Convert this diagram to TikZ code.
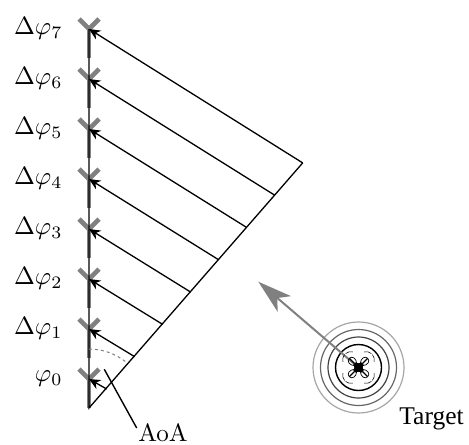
\documentclass[tikz,border=0pt]{standalone}
\usepackage{amsmath,amssymb}
\usepackage{fontspec}
\usetikzlibrary{arrows.meta,positioning,calc}
\newfontfamily\targetfont{Liberation Serif}
\definecolor{antgray}{gray}{0.5}
\tikzset{
  elem/.style   = {draw=antgray, line width=2.3pt},
  ray/.style    = {-{Stealth[length=2mm,width=1.8mm]}, line width=0.65pt},
  wave/.style   = {line width=0.65pt},
  lbl/.style    = {scale=1.25, inner sep=0pt},
}
\begin{document}
\begin{tikzpicture}[x=0.5pt,y=-0.5pt]
  \useasboundingbox (0,0) rectangle (469,444);
  \coordinate (base) at (89,408);
  \coordinate (top) at (89,29);
  % antenna elements
  \foreach \i in {0,...,7} {
    \coordinate (ant\i) at ($(89,379)+(0,-50*\i)$);
    \coordinate (foot\i) at ($(106.7,389)+(28*\i,-32.3*\i)$);
    \draw[elem] (ant\i)--++(0,29);
    \draw[elem] ($(ant\i)+(-10,-10)$)--(ant\i)--($(ant\i)+(10,-10)$);
  }
  \draw[wave] (top)--(base)--(foot7);
  \foreach \i in {0,...,7} \draw[ray] (foot\i)--(ant\i);
  % phase labels
  \node[lbl, anchor=east] (p0) at (63,378.5) {$\varphi_0$};
  \foreach \i in {1,...,7} \node[lbl, anchor=east] (p\i) at ($(63,378.5)+(0,-50*\i)$) {$\Delta\varphi_{\i}$};
  % angle of arrival
  \draw[antgray, line width=0.5pt, dash pattern=on 1.5pt off 1.5pt] (89,349) arc[start angle=-90, end angle=-52, radius=59];
  \coordinate (aoatip) at (104.3,369.3);
  \node[lbl, anchor=center] (aoa) at (163,433) {AoA};
  \draw[line width=0.7pt] (aoatip)--(136.7,428);
  % target
  \coordinate (tgt) at (358.5,367.5);
  \draw[black!35, line width=0.6pt] (tgt) circle[radius=45.5];
  \draw[black!60, line width=0.6pt] (tgt) circle[radius=38];
  \draw[black!75, line width=0.6pt] (tgt) circle[radius=30.5];
  \draw[black, line width=0.7pt] (tgt) circle[radius=23];
  \coordinate (arrowend) at (258.3,281.7);
  \draw[-{Stealth[length=6mm,width=3.6mm,inset=1.6mm]}, antgray, line width=1pt] (tgt)--(arrowend);
  \foreach \a in {45,135,225,315} {
    \begin{scope}[shift={(tgt)}, rotate=\a]
      \fill[black] (0,-4.5)--(6,-1.2)--(6,1.2)--(0,4.5)--cycle;
      \draw[line width=0.6pt] (6,0)--(13,0);
      \draw[line width=0.35pt] (4,-1.5) .. controls (8,-5) and (13,-4) .. (13,0) .. controls (13,4) and (8,5) .. (4,1.5);
      \draw[line width=0.3pt] (15,-7) arc[start angle=-60, end angle=-5, radius=8];
      \draw[line width=0.3pt] (15,7) arc[start angle=60, end angle=5, radius=8];
    \end{scope}
  }
  \node[lbl, font=\targetfont\fontsize{10.2}{12}\selectfont, anchor=center] (tlabel) at (431.5,419) {Target};
\end{tikzpicture}
\end{document}
